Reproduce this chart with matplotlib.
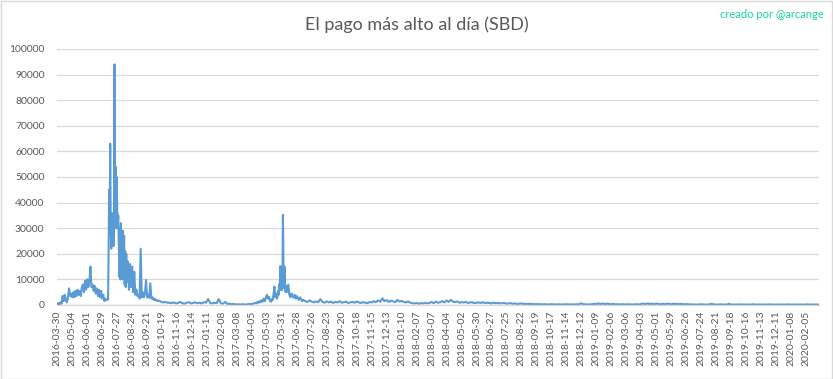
import matplotlib
matplotlib.use("Agg")
import matplotlib.pyplot as plt
from matplotlib.patches import Rectangle

# ---- data (category index = trading day position, value = top payout in SBD) ----
tick_labels = ["2016-03-30","2016-05-04","2016-06-01","2016-06-29","2016-07-27","2016-08-24",
               "2016-09-21","2016-10-19","2016-11-16","2016-12-14","2017-01-11","2017-02-08",
               "2017-03-08","2017-04-05","2017-05-03","2017-05-31","2017-06-28","2017-07-26",
               "2017-08-23","2017-09-20","2017-10-18","2017-11-15","2017-12-13","2018-01-10",
               "2018-02-07","2018-03-07","2018-04-04","2018-05-02","2018-05-30","2018-06-27",
               "2018-07-25","2018-08-22","2018-09-19","2018-10-17","2018-11-14","2018-12-12",
               "2019-01-09","2019-02-06","2019-03-06","2019-04-03","2019-05-01","2019-05-29",
               "2019-06-26","2019-07-24","2019-08-21","2019-09-18","2019-10-16","2019-11-13",
               "2019-12-11","2020-01-08","2020-02-05"]
n_categories = 1425
label_every = 28

# segments: (first category, step, values)
seg_a_start, seg_a_step = 0, 2
seg_a = [300, 800, 200, 1000, 500, 3500, 1500, 4000, 2000, 1000, 3000, 6500,
         3500, 4500, 3000, 5000, 3000, 5500, 3500, 6000, 4000, 5500, 3500, 7000,
         8000, 5000, 9500, 6000, 10000, 7000, 9000, 15000, 7000, 8000, 5500, 7500,
         4500, 6500, 3500, 6000, 3000, 5500, 2500, 4000, 1500, 2500, 2000, 2000]

seg_b_start, seg_b_step = 95, 1
seg_b = [2200, 20000, 45000, 28000, 63000, 30000, 22000, 36000, 25000, 34000,
         23000, 30000, 94000, 35000, 54000, 30000, 50000, 38000, 30000, 35000,
         25000, 11000, 30000, 10000, 32000, 12000, 28000, 10000, 29000, 13000,
         27000, 8000, 21000, 7000, 20000, 9000]

seg_c_start, seg_c_step = 132, 2
seg_c = [17000, 6000, 16000, 7000, 15000, 5000, 13000, 4000, 6000, 3500,
         4000, 2500, 22000, 3000, 5000, 3000, 4500, 9800, 3000, 4000,
         2800, 8500, 2500, 3000, 2000, 2500, 1800, 2000, 1500, 1700]

seg_d_start, seg_d_step = 194, 4
seg_d = [1300, 1000, 1200, 900, 900, 700, 1000, 600, 800, 1200, 700, 500, 900,
         1100, 600, 800, 1000, 700, 900, 600, 1100, 900, 2300, 800, 600, 900, 700,
         2300, 700, 500, 1200, 400, 500, 300, 400, 200, 300, 200, 300, 250, 200,
         400, 300, 500, 800]

seg_e1_start, seg_e1_step = 372, 2
seg_e1 = [600, 1200, 900, 1500, 1000, 1800, 1300, 2500, 1500, 2800, 4000, 2500,
          3200, 1500, 1300, 2500]

seg_e2_start, seg_e2_step = 403, 1
seg_e2 = [2000, 3500, 5000, 7200, 4000, 3000, 4500, 4000, 2500, 3500, 5500, 4000,
          8000, 6000, 15200, 6000, 14000, 5800, 9000, 35200, 16000, 6600, 15000,
          8000, 5000, 7400, 5000, 6000]

seg_e3_start, seg_e3_step = 432, 2
seg_e3 = [8000, 4000, 3000, 4500, 3500, 2800, 4000, 2500, 3500, 2600, 2000, 3000,
          2200, 1500, 2000]

seg_f_start, seg_f_step = 464, 4
seg_f = [1500, 1200, 1800, 1300, 1000, 1400, 1100, 2300, 1200, 900, 1400, 1000,
         1300, 800, 1200, 1000, 1500, 900, 1100, 1300, 800, 1000, 1200, 900, 1400,
         1000, 800, 1100, 900, 700, 1200, 1000, 1500, 1100, 1800, 1300, 2600, 1500,
         1900, 1200, 1700, 1400, 1100, 2000, 1300, 1600, 1200, 1000, 1400, 900, 700,
         600, 800, 500, 700, 600, 900, 600, 800, 1200, 700, 1300, 900, 1100, 1500,
         1000, 1800, 1200, 2000, 1300, 1100, 1400, 900, 1100, 1000, 1200, 800, 1000,
         1100, 700, 900, 1000, 800, 1100, 700, 900, 800, 600, 900, 700, 800, 600,
         700, 800, 500, 600, 700, 500, 600, 400, 500, 600, 400, 500, 350, 450, 400,
         300, 350, 300]

seg_g_start, seg_g_step = 904, 4
seg_g = [300, 250, 300, 200, 250, 300, 250, 200, 300, 250, 200, 250, 300, 200, 250,
         200, 250, 300, 250, 700, 250, 300, 200, 250, 300, 500, 350, 600, 400, 550,
         350, 500, 400, 300, 450, 250, 300, 200, 300, 250, 200, 300, 250, 200, 250,
         300, 200, 400, 550, 350, 600, 400, 500, 350, 550, 400, 300, 450, 350, 500,
         450, 300, 500, 350, 450, 300, 400, 250, 350, 300, 200, 250, 200, 150, 200,
         250, 200, 150, 200, 250, 500, 200, 150, 200, 250, 200, 150, 200, 450, 150,
         200, 150, 200, 250, 150, 200, 150, 200, 150, 250, 200, 150, 200, 150, 200,
         150, 200, 250, 150, 200, 150, 200, 150, 200, 150, 250, 200, 150, 200, 150,
         200, 150, 200, 150, 200, 250, 150, 200, 150, 200, 150]

segments = [(seg_a_start, seg_a_step, seg_a), (seg_b_start, seg_b_step, seg_b),
            (seg_c_start, seg_c_step, seg_c), (seg_d_start, seg_d_step, seg_d),
            (seg_e1_start, seg_e1_step, seg_e1), (seg_e2_start, seg_e2_step, seg_e2),
            (seg_e3_start, seg_e3_step, seg_e3), (seg_f_start, seg_f_step, seg_f),
            (seg_g_start, seg_g_step, seg_g)]

xs, ys = [], []
for start, step, vals in segments:
    for i, v in enumerate(vals):
        xs.append(start + step * i)
        ys.append(v)

# ---- figure ----
plt.rcParams['font.family'] = ['Lato', 'DejaVu Sans']
W, H = 833, 379
fig = plt.figure(figsize=(W / 100, H / 100), dpi=100)
fig.patch.set_facecolor('white')

left, right = 57 / W, 819 / W
bottom, top = 1 - 305 / H, 1 - 49 / H
ax = fig.add_axes([left, bottom, right - left, top - bottom])

ax.plot(xs, ys, color='#5b9bd5', linewidth=1.5, solid_joinstyle='round')

ax.set_xlim(-0.5, n_categories - 0.5)
ax.set_ylim(0, 100000)
ax.set_yticks(range(0, 100001, 10000))
ax.set_yticklabels([str(v) for v in range(0, 100001, 10000)])
ax.set_xticks([label_every * i for i in range(len(tick_labels))])
ax.set_xticklabels(tick_labels, rotation=90)

ax.grid(axis='y', color='#d9d9d9', linewidth=0.9)
ax.set_axisbelow(True)
for s in ['top', 'right', 'left']:
    ax.spines[s].set_visible(False)
ax.spines['bottom'].set_color('#d9d9d9')
ax.spines['bottom'].set_linewidth(0.9)
ax.tick_params(axis='both', length=0, labelsize=7.5, labelcolor='#595959')
ax.tick_params(axis='y', pad=9)
ax.tick_params(axis='x', pad=4)

fig.text(0.5, 1 - 25 / H, 'El pago más alto al día (SBD)', ha='center', va='center',
         fontsize=13, color='#595959', fontweight='normal')
fig.text(824 / W, 1 - 15 / H, 'creado por @arcange', ha='right', va='center',
         fontsize=8, color='#14d3a0')

fig.patches.append(Rectangle((0.5 / W, 0.5 / H), 1 - 1.5 / W, 1 - 1.5 / H,
                             transform=fig.transFigure, fill=False,
                             edgecolor='#d9d9d9', linewidth=1))

fig.savefig('out.png', dpi=100, facecolor='white')
